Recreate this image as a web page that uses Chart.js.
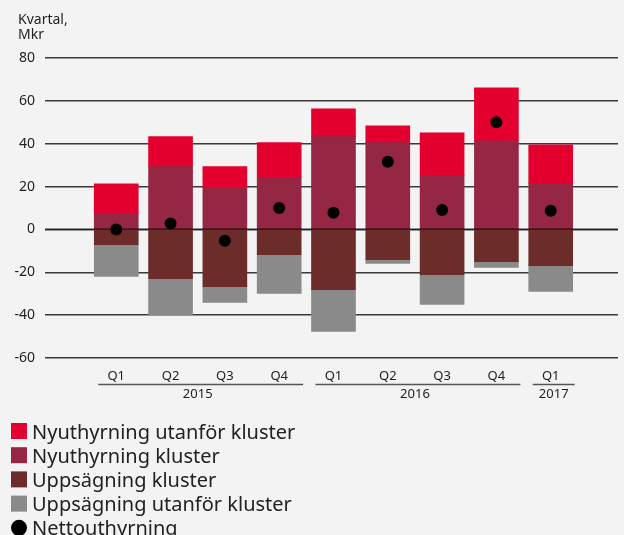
<!DOCTYPE html>
<html>
<head>
<meta charset="utf-8">
<title>Nettouthyrning per kvartal</title>
<script src="https://cdn.jsdelivr.net/npm/chart.js"></script>
<style>
  html, body { margin: 0; padding: 0; background: #f3f3f3; }
  #wrap { width: 624px; height: 535px; position: relative; }
</style>
</head>
<body>
<div id="wrap"><canvas id="chart"></canvas></div>
<script>
// kvartal och år
const quarters = ['Q1', 'Q2', 'Q3', 'Q4', 'Q1', 'Q2', 'Q3', 'Q4', 'Q1'];
const yearLabels = ['2015', '2016', '2017'];
const yearFirst = [0, 4, 8];
const yearLast = [3, 7, 8];

// Mkr
const nyKluster = [7.5, 29.3, 19.6, 24.3, 43.3, 40.5, 25.2, 41.4, 21.5];
const nyUtanfor = [13.8, 14.0, 9.7, 16.2, 13.0, 7.9, 19.9, 24.7, 18.0];
const uppKluster = [-7.1, -23.0, -26.7, -11.8, -28.1, -14.1, -21.1, -15.1, -16.9];
const uppUtanfor = [-14.8, -16.8, -7.4, -18.1, -19.5, -1.8, -13.9, -2.6, -12.0];
const netto = [0, 2.8, -5.3, 10, 7.8, 31.6, 9.1, 50, 8.7];

const yTicks = [-60, -40, -20, 0, 20, 40, 60, 80];

const FONT = "'Noto Sans', sans-serif";
Chart.defaults.font.family = FONT;

const toXY = arr => arr.map((v, i) => ({ x: i, y: v }));

const barDefaults = { type: 'bar', barThickness: 44, borderWidth: 0, order: 1 };

const datasets = [
    { ...barDefaults, label: 'Nyuthyrning kluster', data: toXY(nyKluster), backgroundColor: '#952744' },
    { ...barDefaults, label: 'Nyuthyrning utanför kluster', data: toXY(nyUtanfor), backgroundColor: '#e4002e' },
    { ...barDefaults, label: 'Uppsägning kluster', data: toXY(uppKluster), backgroundColor: '#6c2c2a' },
    { ...barDefaults, label: 'Uppsägning utanför kluster', data: toXY(uppUtanfor), backgroundColor: '#8a8a8a' },
    {
        type: 'line', label: 'Nettouthyrning', data: toXY(netto), stack: 'netto', order: 0,
        showLine: false, pointRadius: 6, pointHoverRadius: 6,
        pointBackgroundColor: '#000', pointBorderWidth: 0, borderColor: '#000'
    }
];

// legendens ordning (index i datasets)
const legendOrder = [1, 0, 2, 3, 4];

const extras = {
    id: 'extras',
    beforeDatasetDraw(chart, args) {
        // nollinjen ligger ovanpå staplarna men under punkterna
        if (chart.data.datasets[args.index].type !== 'line') return;
        const { ctx, chartArea } = chart;
        const y0 = Math.round(chart.scales.y.getPixelForValue(0));
        ctx.save();
        ctx.strokeStyle = 'rgba(0,0,0,0.55)';
        ctx.lineWidth = 1.6;
        ctx.beginPath();
        ctx.moveTo(chartArea.left, y0);
        ctx.lineTo(chartArea.right, y0);
        ctx.stroke();
        ctx.restore();
    },
    afterDraw(chart) {
        const { ctx } = chart;
        const xs = chart.scales.x;
        ctx.save();
        ctx.fillStyle = '#222';

        // axeltitel
        ctx.font = '14px ' + FONT;
        ctx.textAlign = 'left';
        ctx.textBaseline = 'alphabetic';
        ctx.fillText('Kvartal,', 18, 24);
        ctx.fillText('Mkr', 18, 39);

        // år med understrykning
        ctx.strokeStyle = '#555';
        ctx.lineWidth = 1.5;
        ctx.font = '13px ' + FONT;
        ctx.textAlign = 'center';
        ctx.textBaseline = 'middle';
        yearLabels.forEach((lbl, k) => {
            const a = xs.getPixelForValue(yearFirst[k]);
            const b = xs.getPixelForValue(yearLast[k]);
            ctx.beginPath();
            ctx.moveTo(a - 18, 384.5);
            ctx.lineTo(b + 24, 384.5);
            ctx.stroke();
            ctx.fillText(lbl, (a + b) / 2 + (k === 2 ? 3 : 0), 394.5);
        });

        // legend
        ctx.font = '20px ' + FONT;
        ctx.textAlign = 'left';
        ctx.textBaseline = 'alphabetic';
        legendOrder.forEach((di, row) => {
            const ds = chart.data.datasets[di];
            const cy = 431 + row * 24.2;
            if (ds.type === 'line') {
                ctx.fillStyle = ds.pointBackgroundColor;
                ctx.beginPath();
                ctx.arc(19, cy, 8, 0, Math.PI * 2);
                ctx.fill();
            } else {
                ctx.fillStyle = ds.backgroundColor;
                ctx.fillRect(11, cy - 8, 16, 16);
            }
            ctx.fillStyle = '#222';
            ctx.fillText(ds.label, 32, cy + 7.5);
        });
        ctx.restore();
    }
};

new Chart(document.getElementById('chart'), {
    data: { datasets },
    options: {
        responsive: true,
        maintainAspectRatio: false,
        animation: false,
        layout: { padding: { top: 58, bottom: 147, left: 0, right: 0 } },
        plugins: { legend: { display: false }, tooltip: { enabled: false } },
        scales: {
            x: {
                type: 'linear',
                min: -1.312,
                max: 9.239,
                offset: false,
                stacked: true,
                grid: { display: false, drawTicks: false },
                border: { display: false },
                afterBuildTicks: s => { s.ticks = quarters.map((q, i) => ({ value: i })); },
                afterFit: s => { s.height = 30; },
                ticks: {
                    autoSkip: false, maxRotation: 0, padding: 10, color: '#222',
                    font: { size: 13 },
                    callback: v => quarters[v]
                }
            },
            y: {
                stacked: true,
                min: -60,
                max: 80,
                afterBuildTicks: s => { s.ticks = yTicks.map(v => ({ value: v })); },
                afterFit: s => { s.width = 45; },
                grid: { color: '#3a3a3a', drawTicks: false, lineWidth: 1.5 },
                border: { display: false },
                ticks: { padding: 10, color: '#222', font: { size: 14 } }
            }
        }
    },
    plugins: [extras]
});
</script>
</body>
</html>
